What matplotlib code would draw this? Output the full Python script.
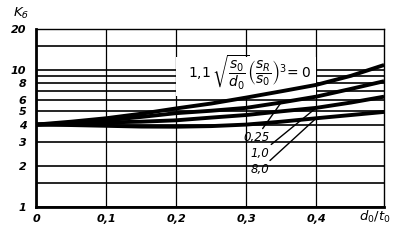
import numpy as np
import matplotlib.pyplot as plt
from matplotlib.patches import Rectangle

# d0/t0 values
x = [0.0, 0.05, 0.1, 0.15, 0.2, 0.25, 0.3, 0.35, 0.4, 0.45, 0.497]

# K_b for each value of the parameter 1,1*sqrt(s0/d0)*(sR/s0)^3
k_0 = [4.0, 4.2, 4.45, 4.8, 5.25, 5.7, 6.3, 7.0, 7.8, 9.1, 10.9]
k_025 = [4.0, 4.1, 4.3, 4.55, 4.85, 5.05, 5.3, 5.8, 6.4, 7.3, 8.3]
k_1 = [4.0, 4.05, 4.15, 4.2, 4.3, 4.5, 4.7, 5.0, 5.3, 5.8, 6.4]
k_8 = [4.0, 3.97, 3.92, 3.87, 3.86, 3.9, 4.0, 4.2, 4.45, 4.7, 4.95]

xticks = [0, 0.1, 0.2, 0.3, 0.4]
xticklabels = ['0', '0,1', '0,2', '0,3', '0,4']
yticks = [1, 2, 3, 4, 5, 6, 8, 10, 20]
ygrid_minor = [1.5, 7, 9, 15]

plt.rcParams['font.family'] = 'DejaVu Sans'
plt.rcParams['mathtext.fontset'] = 'dejavusans'

fig = plt.figure(figsize=(4.01, 2.41), dpi=100)
ax = fig.add_axes([0.0898, 0.141, 0.868, 0.739])

ax.set_yscale('log')
ax.set_xlim(0, 0.497)
ax.set_ylim(1, 20)
ax.set_axisbelow(True)

ax.set_xticks(xticks)
ax.set_xticklabels(xticklabels, fontstyle='italic', fontweight='bold', fontsize=8)
ax.set_yticks(yticks)
ax.set_yticklabels([str(v) for v in yticks], fontstyle='italic', fontweight='bold', fontsize=8)
ax.set_yticks(ygrid_minor, minor=True)
ax.yaxis.set_minor_formatter(plt.NullFormatter())
ax.tick_params(which='both', length=0)
ax.tick_params(axis='y', pad=7)
ax.tick_params(axis='x', pad=5)

ax.grid(True, which='both', axis='y', color='black', lw=1.2)
ax.grid(True, which='major', axis='x', color='black', lw=0.9)

for side in ['left', 'bottom']:
    ax.spines[side].set_linewidth(2.0)
for side in ['top', 'right']:
    ax.spines[side].set_linewidth(1.0)

# white field behind the curve formula
ax.add_patch(Rectangle((0.2, 6.5), 0.2, 6.0, facecolor='white', edgecolor='none', zorder=1))

for k in [k_0, k_025, k_1, k_8]:
    ax.plot(x, k, color='black', lw=2.8, solid_capstyle='butt', zorder=3)

ax.text(0.217, 9.6, r'$1{,}1\,\sqrt{\dfrac{s_0}{d_0}}\left(\dfrac{s_R}{s_0}\right)^3\!=0$',
        fontsize=10, va='center', ha='left', zorder=4)

lab_kw = dict(fontstyle='italic', fontsize=8.5, ha='right', va='center',
              arrowprops=dict(arrowstyle='-', color='black', lw=1.0, shrinkA=0, shrinkB=0))
ax.annotate('0,25', xy=(x[7], k_025[7]), xytext=(0.333, 3.2), **lab_kw)
ax.annotate('1,0', xy=(x[8], k_1[8]), xytext=(0.333, 2.45), **lab_kw)
ax.annotate('8,0', xy=(x[8], k_8[8]), xytext=(0.333, 1.87), **lab_kw)

fig.text(0.033, 0.93, r'$K_{б}$', fontsize=9.5)
fig.text(0.975, 0.085, r'$d_0/t_0$', fontsize=9.5, ha='right')

fig.savefig('out.png', dpi=100, facecolor='white')
